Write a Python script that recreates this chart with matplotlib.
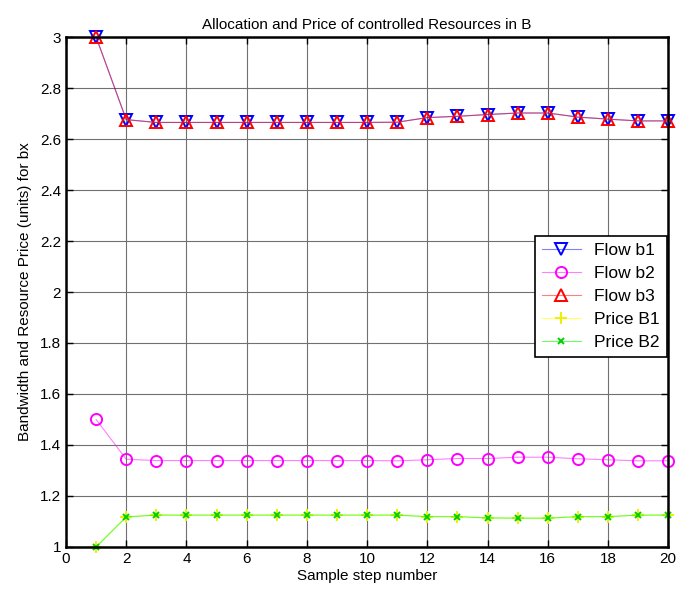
import matplotlib
matplotlib.use("Agg")
import matplotlib.pyplot as plt
from matplotlib.colors import to_rgba

plt.rcParams['font.family'] = ['Liberation Sans', 'DejaVu Sans']

steps = list(range(1, 21))
flow_b1 = [3.0, 2.676, 2.665, 2.665, 2.665, 2.665, 2.665, 2.665, 2.665, 2.665,
           2.666, 2.684, 2.689, 2.696, 2.702, 2.702, 2.686, 2.678, 2.671, 2.671]
flow_b3 = flow_b1
flow_b2 = [1.5, 1.344, 1.339, 1.339, 1.339, 1.339, 1.339, 1.339, 1.339, 1.339,
           1.338, 1.342, 1.347, 1.347, 1.352, 1.352, 1.346, 1.342, 1.338, 1.338]
price_b1 = [1.0, 1.118, 1.125, 1.125, 1.125, 1.125, 1.125, 1.125, 1.125, 1.125,
            1.125, 1.119, 1.119, 1.114, 1.113, 1.113, 1.119, 1.119, 1.125, 1.125]
price_b2 = price_b1

fig = plt.figure(figsize=(6.77, 6.04), dpi=100)
ax = fig.add_axes([0.0975, 0.0944, 0.8895, 0.8443])

# thin faint lines, solid markers (like the MATLAB export)
ax.plot(steps, flow_b1, color=to_rgba('blue', 0.5), lw=0.8, marker='v', ms=8.5,
        mfc='none', mec='blue', mew=1.4, label='Flow b1', clip_on=False)
ax.plot(steps, flow_b2, color=to_rgba('magenta', 0.5), lw=0.8, marker='o', ms=8,
        mfc='none', mec='magenta', mew=1.4, label='Flow b2', clip_on=False)
ax.plot(steps, flow_b3, color=to_rgba('red', 0.5), lw=0.8, marker='^', ms=8.5,
        mfc='none', mec='red', mew=1.4, label='Flow b3', clip_on=False)
ax.plot(steps, price_b1, color=to_rgba('yellow', 0.6), lw=0.8, marker='+', ms=9,
        mec='#f0f000', mew=1.4, label='Price B1', clip_on=False)
ax.plot(steps, price_b2, color=to_rgba('lime', 0.6), lw=0.8, marker='x', ms=5,
        mec='#00d000', mew=1.4, label='Price B2', clip_on=False)

ax.set_xlim(0, 20)
ax.set_ylim(1, 3)
ax.set_xticks(range(0, 21, 2))
ax.set_yticks([1 + 0.2 * i for i in range(11)])
ax.set_yticklabels(['1', '1.2', '1.4', '1.6', '1.8', '2', '2.2', '2.4', '2.6', '2.8', '3'])
ax.grid(True, color='#707070', lw=0.8)
ax.tick_params(direction='in', top=True, right=True, labelsize=11, length=5, width=1)
for s in ax.spines.values():
    s.set_linewidth(1.8)

ax.set_title('Allocation and Price of controlled Resources in B', fontsize=11)
ax.set_xlabel('Sample step number', fontsize=11, labelpad=2)
ax.set_ylabel('Bandwidth and Resource Price (units) for bx', fontsize=11, labelpad=6)

leg = ax.legend(loc='lower right', bbox_to_anchor=(0.998, 0.373), borderaxespad=0,
                fontsize=12.5, fancybox=False, framealpha=1, edgecolor='black',
                borderpad=0.4, labelspacing=0.45, handlelength=2.2)
leg.get_frame().set_linewidth(1.2)

fig.savefig('out.png', dpi=100)
